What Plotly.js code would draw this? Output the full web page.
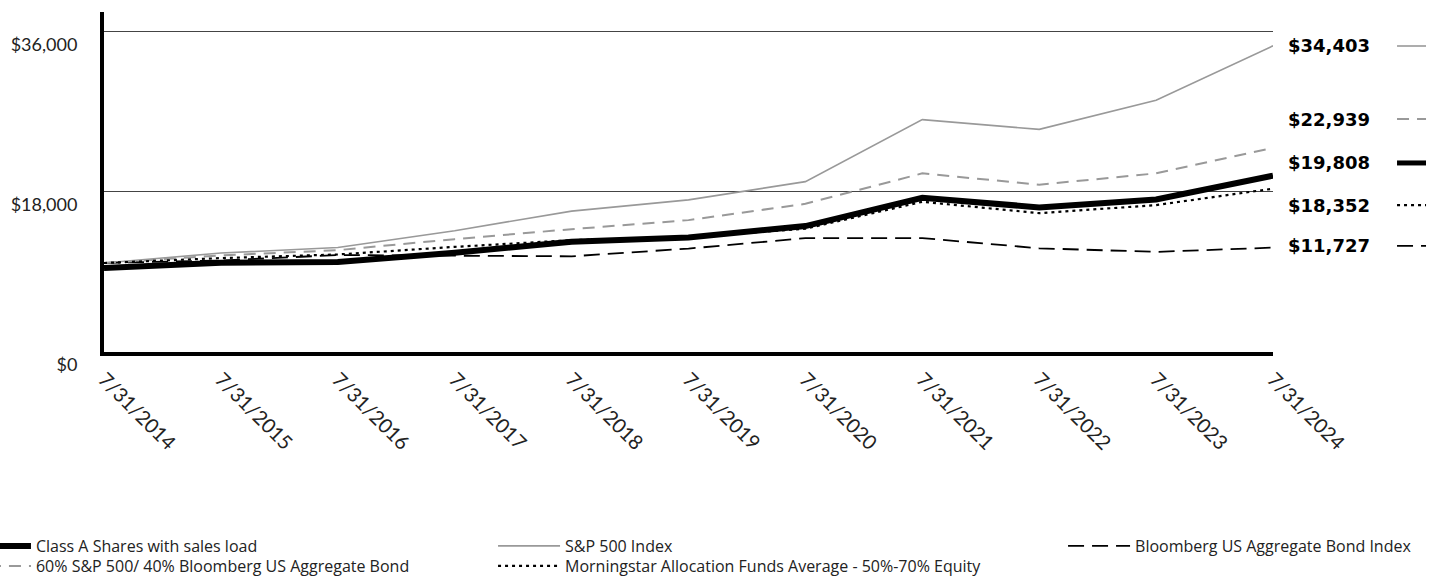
<!DOCTYPE html>
<html><head><meta charset="utf-8">
<script src="https://cdn.plot.ly/plotly-3.0.1.min.js"></script>
<style>html,body{margin:0;padding:0;background:#fff}#chart{width:1452px;height:577px}</style>
</head><body><div id="chart"></div>
<script>
// ---- data ----
const dates = ["7/31/2014","7/31/2015","7/31/2016","7/31/2017","7/31/2018","7/31/2019","7/31/2020","7/31/2021","7/31/2022","7/31/2023","7/31/2024"];
const classA      = [9425, 10020, 10100, 11150, 12375, 12870, 14150, 17325, 16250, 17145, 19808];
const sp500       = [10000, 11121, 11745, 13629, 15829, 17094, 19139, 26113, 25011, 28280, 34403];
const aggBond     = [10000, 10282, 10893, 10838, 10751, 11620, 12796, 12800, 11650, 11250, 11727];
const blend6040   = [10000, 10850, 11441, 12680, 13800, 14816, 16650, 20070, 18800, 20070, 22939];
const morningstar = [10000, 10550, 10958, 11810, 12566, 12900, 13850, 16875, 15600, 16504, 18352];
const yTickVals = [0, 18000, 36000];
const yTickText = ["$0", "$18,000", "$36,000"];
const seriesNames = {
  classA: "Class A Shares with sales load",
  sp500: "S&P 500 Index",
  aggBond: "Bloomberg US Aggregate Bond Index",
  blend6040: "60% S&P 500/ 40% Bloomberg US Aggregate Bond",
  morningstar: "Morningstar Allocation Funds Average - 50%-70% Equity"
};

// ---- styles ----
const styles = {
  classA:      {color: "#000000", width: 6,   dash: "solid",    legend: "legend"},
  sp500:       {color: "#999999", width: 1.6, dash: "solid",    legend: "legend2"},
  aggBond:     {color: "#000000", width: 1.8, dash: "16px,8px", legend: "legend3"},
  blend6040:   {color: "#999999", width: 2,   dash: "12px,8px", legend: "legend4"},
  morningstar: {color: "#000000", width: 2.2, dash: "3px,4px",  legend: "legend5"}
};
const dataMap = {classA, sp500, aggBond, blend6040, morningstar};
const order = ["classA", "sp500", "aggBond", "blend6040", "morningstar"];

const traces = order.map(k => ({
  type: "scatter", mode: "lines",
  x: dates, y: dataMap[k], name: seriesNames[k],
  line: {color: styles[k].color, width: styles[k].width, dash: styles[k].dash},
  legend: styles[k].legend,
  hoverinfo: "skip"
}));

// right-side end labels
const labelOrder = ["sp500", "blend6040", "classA", "morningstar", "aggBond"];
const labelY = [0.90, 0.685, 0.556, 0.432, 0.312];
const fmt = v => "$" + v.toLocaleString("en-US");
const annotations = labelOrder.map((k, i) => ({
  xref: "paper", yref: "paper", x: 1.0111, y: labelY[i],
  xanchor: "left", yanchor: "middle", showarrow: false,
  text: fmt(dataMap[k][dataMap[k].length - 1]),
  font: {family: "DejaVu Sans", size: 18, color: "#000", weight: 700}
}));
const shapes = labelOrder.map((k, i) => ({
  type: "line", xref: "paper", yref: "paper",
  x0: 1.1061, x1: 1.1309, y0: labelY[i], y1: labelY[i],
  line: {color: styles[k].color, width: Math.min(styles[k].width, 5), dash: styles[k].dash}
}));

const legendBase = {
  orientation: "v", xanchor: "left", yanchor: "middle",
  itemwidth: 62, bgcolor: "rgba(0,0,0,0)", borderwidth: 0,
  font: {family: "Open Sans", size: 16, color: "#222"},
  itemclick: false, itemdoubleclick: false, tracegroupgap: 0
};
const colX = [-0.1198, 0.3328, 0.8204];
const rowY = [-0.5706, -0.6294];

const layout = {
  width: 1452, height: 577,
  margin: {l: 104, r: 179, t: 12, b: 225, autoexpand: false},
  paper_bgcolor: "#fff", plot_bgcolor: "#fff",
  showlegend: true,
  xaxis: {
    type: "category", range: [0, dates.length - 1],
    showline: true, linecolor: "#000", linewidth: 4,
    showgrid: false, zeroline: false, ticks: "",
    tickangle: 45, ticklabelstandoff: 4,
    tickfont: {family: "Lato", size: 20, color: "#222"}
  },
  yaxis: {
    range: [0, 38200],
    tickvals: yTickVals, ticktext: yTickText,
    showline: true, linecolor: "#000", linewidth: 4,
    showgrid: true, gridcolor: "#444", gridwidth: 1.2,
    zeroline: false, ticks: "",
    ticklabelstandoff: 19, ticklabelshift: 13,
    tickfont: {family: "Lato", size: 18, color: "#222"}
  },
  legend:  Object.assign({}, legendBase, {x: colX[0], y: rowY[0]}),
  legend2: Object.assign({}, legendBase, {x: colX[1], y: rowY[0]}),
  legend3: Object.assign({}, legendBase, {x: colX[2], y: rowY[0]}),
  legend4: Object.assign({}, legendBase, {x: colX[0], y: rowY[1]}),
  legend5: Object.assign({}, legendBase, {x: colX[1], y: rowY[1]}),
  annotations: annotations,
  shapes: shapes
};

Plotly.newPlot("chart", traces, layout, {displayModeBar: false, staticPlot: true});
</script>
</body></html>
